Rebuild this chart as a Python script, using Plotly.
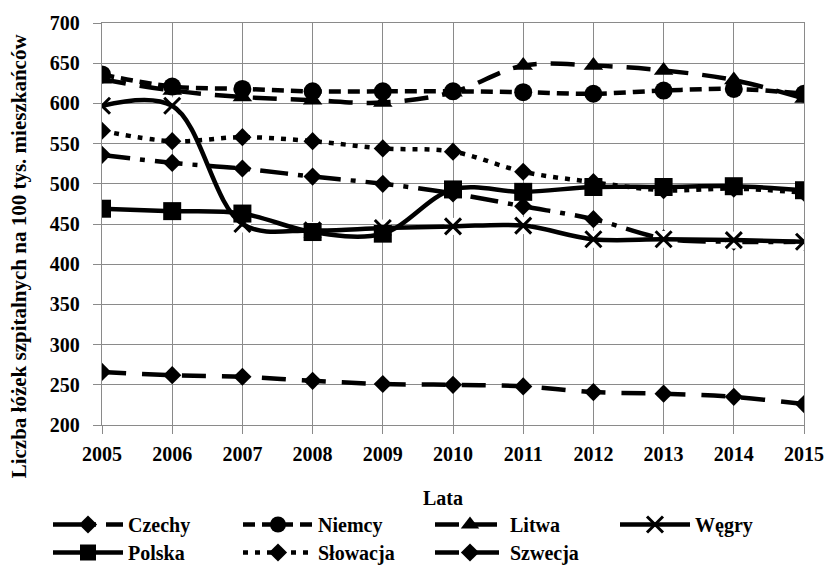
import plotly.graph_objects as go

years = [2005, 2006, 2007, 2008, 2009, 2010, 2011, 2012, 2013, 2014, 2015]

czechy = [536, 526, 519, 509, 500, 488, 472, 456, 432, 428, 428]
niemcy = [636, 621, 618, 615, 615, 615, 614, 612, 616, 618, 612]
litwa = [630, 616, 608, 604, 601, 614, 647, 647, 641, 629, 606]
wegry = [597, 597, 450, 442, 445, 447, 448, 431, 431, 430, 428]
polska = [469, 466, 463, 440, 438, 493, 490, 496, 496, 497, 492]
slowacja = [566, 553, 558, 553, 544, 540, 515, 502, 492, 494, 489]
szwecja = [266, 262, 260, 255, 251, 250, 248, 241, 239, 235, 226]

y_title = "Liczba łóżek szpitalnych na 100 tys. mieszkańców"
x_title = "Lata"

FONT = "Liberation Serif"
GRID = "#8a8a8a"
LW = 4.5
W, H = 836, 570

fig = go.Figure()

# each legend entry gets its own legend box: (legend id, left px, top px)
legend_slots = {
    "Czechy": ("legend", 48, 505),
    "Niemcy": ("legend2", 238, 505),
    "Litwa": ("legend3", 430, 505),
    "Węgry": ("legend4", 615, 505),
    "Polska": ("legend5", 48, 533),
    "Słowacja": ("legend6", 238, 533),
    "Szwecja": ("legend7", 430, 533),
}


def add_series(name, values, symbol, size, dash, marker_line=0):
    fig.add_trace(go.Scatter(
        x=years, y=values, name=name, mode="lines+markers",
        line=dict(color="black", width=LW, dash=dash, shape="spline", smoothing=1),
        marker=dict(symbol=symbol, size=size, color="black",
                    line=dict(color="black", width=marker_line)),
        legend=legend_slots[name][0],
    ))


add_series("Czechy", czechy, "diamond", 14, "28px,10px,5px,10px")
add_series("Niemcy", niemcy, "circle", 18, "12px,7px")
add_series("Litwa", litwa, "triangle-up", 17, "24px,14px")

# white backing squares behind the open X markers
fig.add_trace(go.Scatter(
    x=years, y=wegry, mode="markers", showlegend=False, hoverinfo="skip",
    marker=dict(symbol="square", size=17, color="white"),
))
add_series("Węgry", wegry, "x-thin-open", 16, "solid", marker_line=3)

add_series("Polska", polska, "square", 18, "solid")
add_series("Słowacja", slowacja, "diamond", 14, "5px,7px")
add_series("Szwecja", szwecja, "diamond", 14, "24px,16px")

axis_common = dict(
    showgrid=True, gridcolor=GRID, gridwidth=1.3,
    showline=True, linecolor=GRID, linewidth=1.3, mirror=True,
    ticks="outside", ticklen=8, tickcolor=GRID, tickwidth=1.3,
    zeroline=False,
    tickfont=dict(family=FONT, size=20, color="black", weight="bold"),
)

fig.update_xaxes(range=[2005, 2015], tickmode="array", tickvals=years,
                 ticktext=[str(y) for y in years], ticklabelstandoff=3, **axis_common)
fig.update_yaxes(range=[200, 700], tick0=200, dtick=50, ticklabelstandoff=9, **axis_common)

legend_layout = {}
for lid, left, top in legend_slots.values():
    legend_layout[lid] = dict(
        orientation="h", xanchor="left", yanchor="top",
        xref="container", yref="container",
        x=left / W, y=1 - top / H,
        font=dict(family=FONT, size=20, color="black", weight="bold"),
        itemwidth=70, bgcolor="rgba(0,0,0,0)",
    )

fig.update_layout(
    width=W, height=H, autosize=False,
    margin=dict(l=102, r=22, t=23, b=145),
    paper_bgcolor="white", plot_bgcolor="white",
    font=dict(family=FONT, size=20, color="black", weight="bold"),
    annotations=[
        dict(text=y_title, xref="paper", yref="paper", x=-0.118, y=0.42,
             xanchor="center", yanchor="middle", textangle=-90, showarrow=False,
             font=dict(family=FONT, size=21, color="black", weight="bold")),
        dict(text=x_title, xref="paper", yref="paper", x=0.486, y=-0.182,
             xanchor="center", yanchor="middle", showarrow=False,
             font=dict(family=FONT, size=20, color="black", weight="bold")),
    ],
    **legend_layout,
)

fig.write_html("out.html")
